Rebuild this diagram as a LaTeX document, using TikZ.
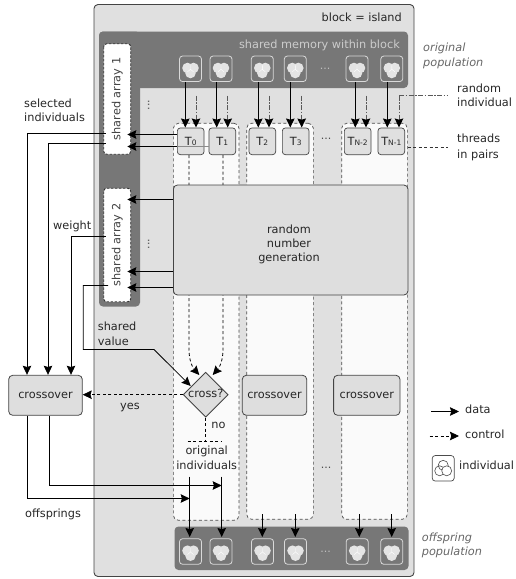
\documentclass[tikz,border=0pt]{standalone}
\usepackage{fontspec}
\setmainfont{DejaVu Sans}
\usetikzlibrary{arrows.meta,shapes.geometric}
\definecolor{islandfill}{HTML}{E0E0E0}
\definecolor{darkmem}{HTML}{777777}
\definecolor{boxfill}{HTML}{DEDEDE}
\definecolor{paleback}{HTML}{FAFAFA}
\definecolor{lineg}{HTML}{444444}
\definecolor{iconlight}{HTML}{E4E4E4}
\newcommand{\tsub}[1]{T{\fontsize{7.5}{8}\selectfont #1}}
\tikzset{
  tip/.style={-{Stealth[length=9pt,width=8.5pt,inset=1.2pt,black]}},
  data/.style={tip,black,line width=0.9pt},
  thin data/.style={tip,black,line width=0.8pt},
  ctrl/.style={tip,black,line width=0.8pt,dash pattern=on 3pt off 2.5pt},
  randarrow/.style={tip,black!65,line width=0.9pt,dash pattern=on 5pt off 1.5pt on 1.5pt off 1.5pt},
  lbl/.style={inner sep=0pt,anchor=west,text height=8.5pt,text depth=2.2pt,font=\fontsize{11.3}{14}\selectfont,text=black!85},
  ital/.style={lbl,text=black!60,font=\fontsize{11.3}{14}\itshape\selectfont},
  clbl/.style={lbl,anchor=center},
  dotsm/.style={inner sep=0pt,font=\fontsize{11}{13}\selectfont,text=black!70},
  indiv/.style={rectangle,rounded corners=3pt,draw=black!15,line width=0.8pt,minimum width=22pt,minimum height=25.5pt,inner sep=0pt,
    path picture={
      \fill[iconlight] ([xshift=-3pt,yshift=0.8pt]path picture bounding box.center) circle[radius=5.3pt];
      \fill[iconlight] ([xshift=3pt,yshift=0.8pt]path picture bounding box.center) circle[radius=5.3pt];
      \fill[iconlight] ([yshift=-4.2pt]path picture bounding box.center) circle[radius=5.3pt];
      \draw[white,line width=0.4pt] ([yshift=-0.5pt]path picture bounding box.center) -- ++(0,4pt)
        ([yshift=-0.5pt]path picture bounding box.center) -- ++(-3pt,-2.5pt)
        ([yshift=-0.5pt]path picture bounding box.center) -- ++(3pt,-2.5pt);
    }},
  legendicon/.style={rectangle,rounded corners=3pt,draw=black!70,fill=white,line width=0.7pt,minimum width=22pt,minimum height=25.5pt,inner sep=0pt,
    path picture={
      \draw[black!70,line width=0.6pt] ([yshift=3pt]path picture bounding box.center) circle[radius=5pt];
      \draw[black!70,line width=0.6pt] ([xshift=-3.5pt,yshift=-2.5pt]path picture bounding box.center) circle[radius=5pt];
      \draw[black!70,line width=0.6pt,fill=white] ([xshift=3.5pt,yshift=-2.5pt]path picture bounding box.center) circle[radius=5pt];
    }},
  thread/.style={rectangle,rounded corners=3pt,draw=lineg,fill=islandfill,line width=0.7pt,minimum width=26.7pt,minimum height=26.7pt,inner sep=0pt,font=\fontsize{11.3}{14}\selectfont,text=black!85},
  arraybox/.style={rectangle,rotate=90,rounded corners=3pt,draw=black!80,fill=white,line width=0.9pt,dash pattern=on 2.5pt off 1.5pt,minimum height=27pt,inner sep=0pt,text=black!75,font=\fontsize{11.3}{14}\selectfont},
  pairbox/.style={rectangle,rounded corners=5pt,draw=black!70,fill=paleback,line width=0.7pt,dash pattern=on 3pt off 2.5pt,inner sep=0pt},
  procbox/.style={rectangle,rounded corners=4pt,draw=lineg,fill=boxfill,line width=0.8pt,inner sep=0pt,font=\fontsize{11.3}{14}\selectfont,text=black!85},
}
\begin{document}
\begin{tikzpicture}[x=1pt,y=-1pt]
\useasboundingbox (0,0) rectangle (515,579);
% island
\node[rectangle,rounded corners=4pt,draw=lineg,fill=islandfill,line width=0.9pt,minimum width=320pt,minimum height=572pt,inner sep=0pt] (island) at (254,290.5) {};
\node[lbl,anchor=east] (islandlbl) at (402,18) {block = island};
% shared memory
\fill[darkmem,rounded corners=4pt] (99,31.5) rectangle (408,88);
\fill[darkmem,rounded corners=4pt] (99,31.5) rectangle (140,306.5);
\fill[darkmem,rounded corners=4pt] (174.5,526.5) rectangle (408.5,570);
\node[lbl,anchor=east,text=black!20] (memlbl) at (400,45) {shared memory within block};
% pair containers
\node[pairbox,minimum width=65.7pt,minimum height=397pt] (p1) at (206.2,321.8) {};
\node[pairbox,minimum width=66.7pt,minimum height=396pt] (p2) at (280,321.3) {};
\node[pairbox,minimum width=65.7pt,minimum height=396pt] (p3) at (374.5,321.3) {};
% shared arrays
\node[arraybox,minimum width=110.5pt] (sa1) at (117.2,99) {shared array 1};
\node[arraybox,minimum width=113.5pt] (sa2) at (117.2,245) {shared array 2};
% individuals top and bottom
\node[indiv] (i1) at (190.5,68.8) {};
\node[indiv] (i2) at (221,68.8) {};
\node[indiv] (i3) at (262.3,68.8) {};
\node[indiv] (i4) at (295.3,68.8) {};
\node[indiv] (i5) at (357,68.8) {};
\node[indiv] (i6) at (391.8,68.8) {};
\node[indiv] (o1) at (190.5,551.5) {};
\node[indiv] (o2) at (221,551.5) {};
\node[indiv] (o3) at (262.5,551.5) {};
\node[indiv] (o4) at (295.5,551.5) {};
\node[indiv] (o5) at (357.2,551.5) {};
\node[indiv] (o6) at (391.7,551.5) {};
% threads
\node[thread] (t0) at (190.7,141.3) {\tsub{0}};
\node[thread] (t1) at (222.3,141.3) {\tsub{1}};
\node[thread] (t2) at (262.3,141.3) {\tsub{2}};
\node[thread] (t3) at (295.7,141.3) {\tsub{3}};
\node[thread] (t4) at (357.7,141.3) {\tsub{N-2}};
\node[thread] (t5) at (391.3,141.3) {\tsub{N-1}};
% dots
\node[dotsm,text=black!25] (d1) at (325,69) {...};
\node[dotsm] (d2) at (326,138.5) {...};
\node[dotsm] (d3) at (326,468) {...};
\node[dotsm,text=black!25] (d4) at (325.7,552) {...};
\node[dotsm,rotate=90] (d5) at (148.7,105) {...};
\node[dotsm,rotate=90] (d6) at (148.7,244) {...};
% diamond and control lines into it
\coordinate (c0) at (189,350);
\coordinate (c1) at (223,350);
\coordinate (c0tip) at (199.3,375);
\coordinate (c1tip) at (212.7,375);
\draw[ctrl] (t0.south -| c0) -- (c0) .. controls (189,361) and (193,368) .. (c0tip);
\draw[ctrl] (t1.south -| c1) -- (c1) .. controls (223,361) and (219,368) .. (c1tip);
\node[diamond,draw=lineg,fill=boxfill,line width=0.9pt,minimum width=45pt,minimum height=45pt,inner sep=0pt] (dm) at (205.7,394.7) {};
\node[clbl] (dmt) at (205.7,394.7) {cross?};
% RNG
\node[procbox,minimum width=234.5pt,minimum height=110pt] (rng) at (290.7,240) {};
\node[clbl,align=center,text height=,text depth=] (rngt) at (289,244.5) {random\\number\\generation};
% crossovers
\node[procbox,minimum width=73.6pt,minimum height=40pt] (cl) at (45.5,395.3) {crossover};
\node[procbox,minimum width=64.4pt,minimum height=40pt] (c2) at (274.5,395.3) {crossover};
\node[procbox,minimum width=66.4pt,minimum height=40pt] (c3) at (366.8,395.3) {crossover};
% population arrows
\foreach \ind/\th/\dx/\rx in {i1/t0/185.3/196,i2/t1/216.7/227.7,i3/t2/258.3/269,i4/t3/290.3/301.7,i5/t4/355.3/366,i6/t5/387.3/399}{
  \coordinate (da) at (\dx,127.5);
  \coordinate (ra) at (\rx,127.5);
  \coordinate (rs) at (\rx,95.5);
  \draw[data] (\ind.south -| da) -- (da);
  \draw[randarrow] (rs) -- (ra);
}
% into shared array 1
\coordinate (p1a) at (127.3,134.5);
\coordinate (p1b) at (127.3,146.5);
\coordinate (p1c) at (177,146.5);
\draw[thin data] (t0.west |- p1a) -- (p1a);
\draw[black!45,line width=0.7pt] (t1.west |- p1b) -- (p1c);
\draw[thin data] (p1c) -- (p1b);
% rng to array 2
\coordinate (p2a) at (127.3,199.5);
\coordinate (p2b) at (127.3,271.5);
\coordinate (p2c) at (127.3,287.5);
\draw[thin data] (rng.west |- p2a) -- (p2a);
\draw[thin data] (rng.west |- p2b) -- (p2b);
\draw[thin data] (rng.west |- p2c) -- (p2c);
% arrays to crossover
\coordinate (s1) at (105.5,133.5);
\coordinate (s2) at (105.5,143.5);
\coordinate (s3) at (105.5,236.5);
\coordinate (s4) at (108,285.5);
\draw[thin data] (s1) -- (27,133.5) -- (27,374.8);
\draw[thin data] (s2) -- (48,143.5) -- (48,374.8);
\draw[thin data] (s3) -- (71,236.5) -- (71,374.8);
\coordinate (dmtip) at (190.7,386);
\draw[thin data] (s4) -- (83.3,285.5) -- (83.3,349.5) -- (154,349.5) -- (dmtip);
% crossover control
\draw[ctrl] (dm.west) -- (cl.east |- dm.west);
\node[lbl,anchor=center] (yes) at (130,406) {yes};
\node[lbl,anchor=center] (no) at (218.5,425) {no};
% no branch
\coordinate (nobot) at (205.7,441.5);
\draw[black,line width=0.8pt,dash pattern=on 3pt off 2.5pt] (dm.south) -- (nobot);
\draw[black,line width=0.8pt,dash pattern=on 3pt off 2.5pt] (187.7,441.5) -- (222.3,441.5);
\node[clbl] (orig1) at (206.7,451) {original};
\node[clbl] (orig2) at (206.7,466) {individuals};
% offspring arrows
\coordinate (of1) at (189.7,498.5);
\coordinate (of2) at (221.7,485.5);
\draw[thin data] (cl.south -| 49.3,0) -- (49.3,485.5) -- (of2);
\draw[thin data] (cl.south -| 27,0) -- (27,498.5) -- (of1);
\draw[data] (189.7,476.7) -- (189.7,537);
\draw[data] (221.7,476.7) -- (221.7,537);
\foreach \x in {262.3,295.3,359.3,391.7}{
  \draw[data] (\x,514) -- (\x,537);
}
% side legends
\coordinate (rc) at (399,95.5);
\coordinate (rl) at (448,95.5);
\draw[black!65,line width=0.9pt,dash pattern=on 5pt off 1.5pt on 1.5pt off 1.5pt] (rc) -- (rl);
\coordinate (tl) at (448,147.5);
\draw[black!80,line width=0.8pt,dash pattern=on 3pt off 2.5pt] (p3.east |- tl) -- (tl);
\node[ital] (op1) at (423,48) {original};
\node[ital] (op2) at (423,63) {population};
\node[lbl] (ri1) at (457,89) {random};
\node[lbl] (ri2) at (457,103.5) {individual};
\node[lbl] (tp1) at (457,139.5) {threads};
\node[lbl] (tp2) at (457,155) {in pairs};
\node[lbl] (se1) at (24,104) {selected};
\node[lbl] (se2) at (24,118) {individuals};
\node[lbl] (we) at (53,226) {weight};
\node[lbl] (sv1) at (97.7,327) {shared};
\node[lbl] (sv2) at (97.7,342) {value};
\node[lbl] (off) at (25,514) {offsprings};
\node[ital] (fp1) at (421.7,538) {offspring};
\node[ital] (fp2) at (421.7,552.5) {population};
% legend
\coordinate (l1a) at (431,411.5);
\coordinate (l1b) at (459,411.5);
\coordinate (l2a) at (429.7,436);
\coordinate (l2b) at (459,436);
\draw[thin data] (l1a) -- (l1b);
\draw[ctrl] (l2a) -- (l2b);
\node[lbl] (ldata) at (465,410) {data};
\node[lbl] (lctrl) at (465,435.5) {control};
\node[legendicon] (licon) at (443.2,468.3) {};
\node[lbl] (lind) at (459,466) {individual};
\end{tikzpicture}
\end{document}
